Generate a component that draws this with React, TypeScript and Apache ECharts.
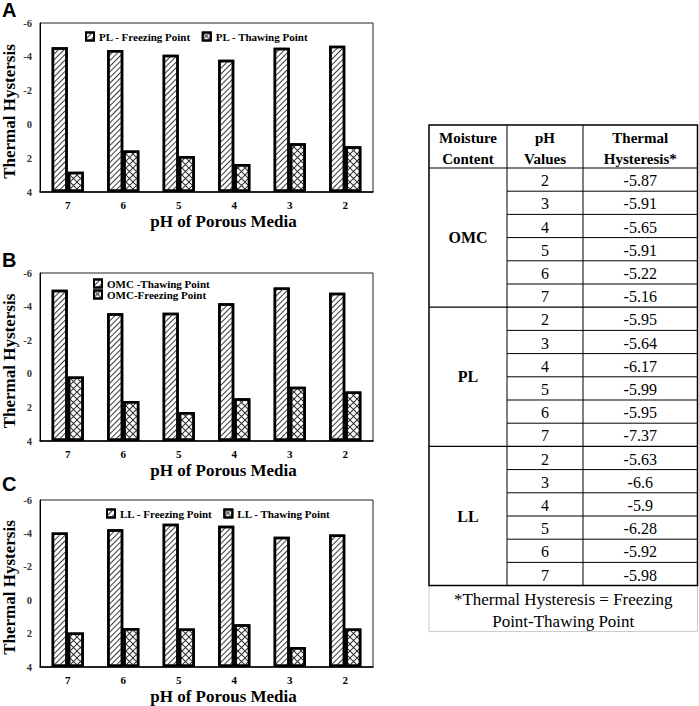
import React, { useEffect, useRef } from 'react';
import * as echarts from 'echarts';

const categories = ['7', '6', '5', '4', '3', '2'];
const plFreezing = [-4.57, -4.4, -4.12, -3.83, -4.53, -4.65];
const plThawing = [2.8, 1.55, 1.87, 2.34, 1.11, 1.3];
const omcFreezing = [-5.0, -3.6, -3.64, -4.2, -5.14, -4.82];
const omcThawing = [0.16, 1.62, 2.27, 1.45, 0.77, 1.05];
const llFreezing = [-4.05, -4.25, -4.58, -4.46, -3.8, -3.93];
const llThawing = [1.93, 1.67, 1.7, 1.44, 2.8, 1.7];

const panelNames = ['A', 'B', 'C'];
const legendA = ['PL - Freezing Point', 'PL - Thawing Point'];
const legendB = ['OMC -Thawing Point', 'OMC-Freezing Point'];
const legendC = ['LL - Freezing Point', 'LL - Thawing Point'];
const xTitle = 'pH of Porous Media';
const yTitle = 'Thermal Hystersis';

const tableHeader = [
  ['Moisture', 'Content'],
  ['pH', 'Values'],
  ['Thermal', 'Hysteresis*'],
];
const tableGroups = ['OMC', 'PL', 'LL'];
const tablePh = [2, 3, 4, 5, 6, 7];
const omcHyst = [-5.87, -5.91, -5.65, -5.91, -5.22, -5.16];
const plHyst = [-5.95, -5.64, -6.17, -5.99, -5.95, -7.37];
const llHyst = [-5.63, -6.6, -5.9, -6.28, -5.92, -5.98];
const tableNote = ['*Thermal Hysteresis = Freezing', 'Point-Thawing Point'];

const SERIF = '"Liberation Serif", "Times New Roman", serif';
const SANS = '"Liberation Sans", Arial, sans-serif';

const diagDecal = {
  symbol: 'rect',
  symbolSize: 1,
  color: '#3a3a3a',
  backgroundColor: '#fff',
  dashArrayX: [1, 0],
  dashArrayY: [0.9, 2.4],
  rotation: -Math.PI / 4,
};
const crossDecal = {
  symbol: 'path://M0,0L0.7,0L7,6.3L7,7L6.3,7L0,0.7Z M7,0L7,0.7L0.7,7L0,7L0,6.3L6.3,0Z',
  symbolSize: 1,
  symbolKeepAspect: false,
  color: '#2a2a2a',
  backgroundColor: '#fff',
  dashArrayX: [7, 0],
  dashArrayY: [7, 0],
  rotation: 0,
};

const grids = [
  { left: 40, top: 23, width: 333, height: 169 },
  { left: 40, top: 273, width: 333, height: 168 },
  { left: 40, top: 500, width: 333, height: 168 },
];

function buildOption() {
  const panels = [
    { names: legendA, f: plFreezing, t: plThawing },
    { names: legendB, f: omcFreezing, t: omcThawing },
    { names: legendC, f: llFreezing, t: llThawing },
  ];

  const xAxis = grids.map((_, i) => ({
    gridIndex: i,
    type: 'category',
    data: categories,
    axisTick: { show: false },
    axisLine: { show: true, onZero: false, lineStyle: { color: '#000', width: 1.5 } },
    axisLabel: { color: '#000', fontFamily: SERIF, fontWeight: 'bold', fontSize: 11, margin: 7 },
    name: xTitle,
    nameLocation: 'middle',
    nameGap: 21,
    nameTextStyle: {
      color: '#000',
      fontFamily: SERIF,
      fontWeight: 'bold',
      fontSize: 17,
      padding: [0, 0, 0, 34],
    },
  }));

  const yAxis = grids.map((_, i) => ({
    gridIndex: i,
    type: 'value',
    inverse: true,
    min: -6,
    max: 4,
    interval: 2,
    startValue: 4,
    splitLine: { show: false },
    axisTick: { show: false },
    axisLine: { show: true, onZero: false, lineStyle: { color: '#000', width: 1 } },
    axisLabel: { color: '#333', fontFamily: SERIF, fontWeight: 'bold', fontSize: 10.5, margin: 8 },
    name: yTitle,
    nameLocation: 'middle',
    nameGap: 22,
    nameTextStyle: {
      color: '#000',
      fontFamily: SERIF,
      fontWeight: 'bold',
      fontSize: 17,
      padding: [0, 8, 0, 0],
    },
  }));

  const series: any[] = [];
  panels.forEach((p, i) => {
    series.push({
      type: 'bar',
      name: p.names[0],
      xAxisIndex: i,
      yAxisIndex: i,
      data: p.f,
      barGap: '0%',
      barCategoryGap: '42%',
      itemStyle: { color: '#fff', borderColor: '#000', borderWidth: 2.5, decal: diagDecal },
    });
    series.push({
      type: 'bar',
      name: p.names[1],
      xAxisIndex: i,
      yAxisIndex: i,
      data: p.t,
      barGap: '0%',
      barCategoryGap: '42%',
      itemStyle: { color: '#fff', borderColor: '#000', borderWidth: 2.5, decal: crossDecal },
    });
  });

  const legendText = { color: '#000', fontFamily: SERIF, fontWeight: 'bold', fontSize: 11 };
  const legend = [
    {
      data: legendA,
      orient: 'horizontal',
      left: 80,
      top: 26,
      icon: 'rect',
      itemWidth: 8,
      itemHeight: 8,
      itemGap: 11,
      textStyle: legendText,
      selectedMode: false,
    },
    {
      data: legendB,
      orient: 'vertical',
      left: 88,
      top: 273,
      icon: 'rect',
      itemWidth: 8,
      itemHeight: 8,
      itemGap: 0,
      textStyle: legendText,
      selectedMode: false,
    },
    {
      data: legendC,
      orient: 'horizontal',
      left: 101,
      top: 503,
      icon: 'rect',
      itemWidth: 8,
      itemHeight: 8,
      itemGap: 11,
      textStyle: legendText,
      selectedMode: false,
    },
  ];

  const graphic: any[] = [];
  const panelY = [10, 260, 484];
  panelNames.forEach((n, i) => {
    graphic.push({
      type: 'text',
      x: 2,
      y: panelY[i],
      style: {
        text: n,
        font: `bold 20px ${SANS}`,
        fill: '#000',
        align: 'left',
        verticalAlign: 'middle',
        textAlign: 'left',
        textVerticalAlign: 'middle',
      },
    });
  });

  // Table
  const tL = 429;
  const tR = 697.5;
  const tT = 125;
  const hB = 168;
  const rowH = 23.2;
  const c1 = 507;
  const c2 = 583;
  const nRows = tableGroups.length * tablePh.length;
  const tB = hB + nRows * rowH;
  const noteB = tB + 46;
  const colCenters = [(tL + c1) / 2, (c1 + c2) / 2, (c2 + tR) / 2];
  const hystGroups = [omcHyst, plHyst, llHyst];

  const txt = (text: string, x: number, y: number, font: string, fill = '#000') => ({
    type: 'text',
    x,
    y,
    style: {
      text,
      font,
      fill,
      align: 'center',
      verticalAlign: 'middle',
      textAlign: 'center',
      textVerticalAlign: 'middle',
    },
  });
  const ln = (x1: number, y1: number, x2: number, y2: number, w = 1, c = '#000') => ({
    type: 'line',
    shape: { x1, y1, x2, y2 },
    style: { stroke: c, lineWidth: w },
  });

  graphic.push({
    type: 'rect',
    shape: { x: tL, y: tB, width: tR - tL, height: noteB - tB },
    style: { fill: '#fff', stroke: '#c8c8c8', lineWidth: 1 },
  });
  tableNote.forEach((t, k) => {
    graphic.push(txt(t, (tL + tR) / 2, tB + 14 + k * 22, `17px ${SERIF}`));
  });

  graphic.push({
    type: 'rect',
    shape: { x: tL, y: tT, width: tR - tL, height: tB - tT },
    style: { fill: 'none', stroke: '#000', lineWidth: 1.5 },
  });
  graphic.push(ln(c1, tT, c1, tB));
  graphic.push(ln(c2, tT, c2, tB));
  graphic.push(ln(tL, hB, tR, hB, 1.2));

  tableHeader.forEach((lines, ci) => {
    lines.forEach((l, k) => {
      graphic.push(txt(l, colCenters[ci], 138 + k * 21, `bold 15px ${SERIF}`));
    });
  });

  tableGroups.forEach((g, gi) => {
    const gTop = hB + gi * tablePh.length * rowH;
    const gBot = gTop + tablePh.length * rowH;
    if (gi > 0) graphic.push(ln(tL, gTop, tR, gTop, 1.2));
    graphic.push(txt(g, colCenters[0], (gTop + gBot) / 2, `bold 16px ${SERIF}`));
    tablePh.forEach((ph, ri) => {
      const rTop = gTop + ri * rowH;
      if (ri > 0) graphic.push(ln(c1, rTop, tR, rTop, 1));
      graphic.push(txt(String(ph), colCenters[1], rTop + rowH / 2 + 1, `16px ${SERIF}`));
      graphic.push(txt(String(hystGroups[gi][ri]), colCenters[2], rTop + rowH / 2 + 1, `16px ${SERIF}`));
    });
  });

  return {
    animation: false,
    backgroundColor: '#fff',
    grid: grids.map((g) => ({ ...g, show: true, borderColor: '#222', borderWidth: 1, backgroundColor: 'transparent' })),
    xAxis,
    yAxis,
    legend,
    series,
    graphic,
  };
}

export default function App() {
  const ref = useRef<HTMLDivElement>(null);
  useEffect(() => {
    if (!ref.current) return;
    const chart = echarts.init(ref.current, undefined, { renderer: 'svg' });
    chart.setOption(buildOption() as any);
    return () => chart.dispose();
  }, []);
  return (
    <div
      ref={ref}
      style={{ position: 'fixed', left: 0, top: 0, width: 699, height: 706, background: '#fff' }}
    />
  );
}
